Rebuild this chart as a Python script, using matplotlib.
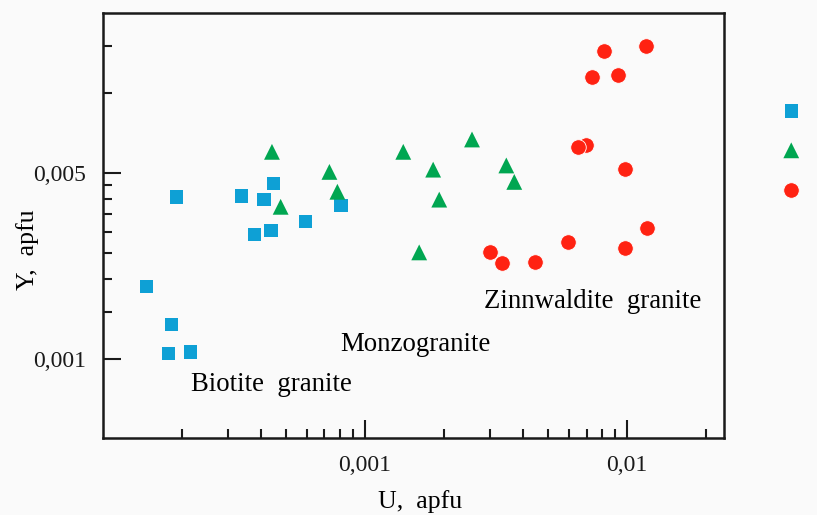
import matplotlib
matplotlib.use("Agg")
import matplotlib.pyplot as plt
from matplotlib.ticker import FixedLocator, NullFormatter

plt.rcParams['font.family'] = ['Liberation Serif', 'DejaVu Serif']

# U, Y (apfu)
biotite_u = [1.47e-4, 1.83e-4, 1.78e-4, 2.16e-4, 1.91e-4, 3.39e-4, 4.12e-4, 4.48e-4, 3.79e-4, 4.38e-4, 5.93e-4, 8.1e-4]
biotite_y = [1.87e-3, 1.35e-3, 1.05e-3, 1.065e-3, 4.07e-3, 4.11e-3, 3.98e-3, 4.57e-3, 2.95e-3, 3.04e-3, 3.30e-3, 3.79e-3]

monzo_u = [4.42e-4, 7.32e-4, 7.85e-4, 4.77e-4, 1.40e-3, 2.56e-3, 1.82e-3, 3.46e-3, 3.71e-3, 1.92e-3, 1.61e-3]
monzo_y = [6.02e-3, 5.06e-3, 4.26e-3, 3.74e-3, 6.02e-3, 6.70e-3, 5.16e-3, 5.35e-3, 4.64e-3, 3.98e-3, 2.52e-3]

zinn_u = [8.13e-3, 1.18e-2, 7.31e-3, 9.25e-3, 6.94e-3, 6.51e-3, 9.80e-3, 5.93e-3, 9.77e-3, 1.19e-2, 3.01e-3, 3.32e-3, 4.46e-3]
zinn_y = [1.44e-2, 1.51e-2, 1.15e-2, 1.175e-2, 6.38e-3, 6.27e-3, 5.17e-3, 2.76e-3, 2.61e-3, 3.12e-3, 2.53e-3, 2.30e-3, 2.32e-3]

x_major = [0.001, 0.01]
x_labels = ['0,001', '0,01']
x_minor = [2e-4, 3e-4, 4e-4, 5e-4, 6e-4, 7e-4, 8e-4, 9e-4,
           2e-3, 3e-3, 4e-3, 5e-3, 6e-3, 7e-3, 8e-3, 9e-3, 2e-2]
y_major = [0.001, 0.005]
y_labels = ['0,001', '0,005']
y_minor = [0.0015, 0.002, 0.0025, 0.003, 0.0035, 0.004, 0.0045, 0.01, 0.015]

bg = '#fafafa'
fig = plt.figure(figsize=(8.17, 5.15), dpi=100, facecolor=bg)
ax = fig.add_axes([0.1257, 0.1495, 0.7605, 0.826], facecolor=bg)

ax.scatter(biotite_u, biotite_y, marker='s', s=92, color='#0ea0d5', edgecolors='none',
           label='Biotite granite', zorder=3)
ax.scatter(monzo_u, monzo_y, marker='^', s=130, color='#00a651', edgecolors='none',
           label='Monzogranite', zorder=3)
ax.scatter(zinn_u, zinn_y, marker='o', s=125, color='#ff2212', edgecolors='white',
           linewidths=0.6, label='Zinnwaldite granite', zorder=3)

ax.set_xscale('log')
ax.set_yscale('log')
ax.set_xlim(1e-4, 0.0234)
ax.set_ylim(0.000505, 0.0201)

ax.xaxis.set_major_locator(FixedLocator(x_major))
ax.xaxis.set_minor_locator(FixedLocator(x_minor))
ax.set_xticklabels(x_labels)
ax.xaxis.set_minor_formatter(NullFormatter())
ax.yaxis.set_major_locator(FixedLocator(y_major))
ax.yaxis.set_minor_locator(FixedLocator(y_minor))
ax.set_yticklabels(y_labels)
ax.yaxis.set_minor_formatter(NullFormatter())

ax.tick_params(which='both', direction='in', top=False, right=False, width=1.5, colors='#1a1a1a')
ax.tick_params(which='major', length=13, labelsize=17, pad=12)
ax.tick_params(which='minor', length=6.5)
for sp in ax.spines.values():
    sp.set_linewidth(1.8)
    sp.set_color('#1a1a1a')

ax.set_xlabel('U,  apfu', fontsize=18.5)
ax.set_ylabel('Y,  apfu', fontsize=18.5)
ax.xaxis.set_label_coords(0.511, -0.122)
ax.yaxis.set_label_coords(-0.102, 0.442)

ax.text(0.271, 0.125, 'Biotite  granite', transform=ax.transAxes, fontsize=19.3,
        ha='center', va='center')
ax.text(0.503, 0.219, 'Monzogranite', transform=ax.transAxes, fontsize=19.3,
        ha='center', va='center')
ax.text(0.788, 0.322, 'Zinnwaldite  granite', transform=ax.transAxes, fontsize=19.3,
        ha='center', va='center')

# legend sits partly outside the figure, as in the source picture
ax.legend(loc='upper left', bbox_to_anchor=(1.055, 0.815), frameon=False, fontsize=17,
          handletextpad=0.35, labelspacing=0.75, borderaxespad=0)

fig.savefig('out.png', dpi=100, facecolor=bg)
